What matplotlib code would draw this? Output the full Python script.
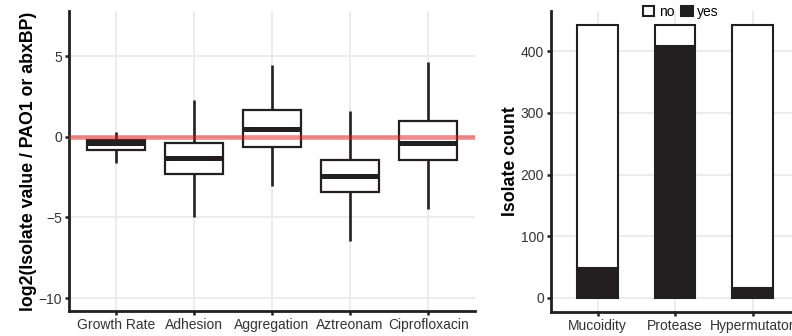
import matplotlib
matplotlib.use("Agg")
import matplotlib.pyplot as plt
from matplotlib.patches import Patch

plt.rcParams['font.family'] = ['Liberation Sans', 'DejaVu Sans']

# ---- data: left panel (box stats) ----
traits = ["Growth Rate", "Adhesion", "Aggregation", "Aztreonam", "Ciprofloxacin"]
whisk_low = [-1.6, -4.95, -3.02, -6.44, -4.47]
q1 = [-0.82, -2.32, -0.62, -3.42, -1.41]
median = [-0.36, -1.33, 0.48, -2.44, -0.39]
q3 = [-0.2, -0.37, 1.64, -1.41, 1.01]
whisk_high = [0.29, 2.3, 4.47, 1.61, 4.62]
left_yticks = [5, 0, -5, -10]
left_yticklabels = ["5", "0", "\u22125", "\u221210"]

# ---- data: right panel ----
phenotypes = ["Mucoidity", "Protease", "Hypermutator"]
yes_counts = [49, 408, 16]
no_counts = [394, 35, 427]
right_yticks = [0, 100, 200, 300, 400]

dark = "#231F20"
grid_c = "#EBEBEB"
tick_c = "#333333"

fig = plt.figure(figsize=(7.92, 3.36), dpi=100)

# ---------------- left panel ----------------
ax1 = fig.add_axes([69/792, 25/336, 406/792, 300/336])
stats = []
for i in range(len(traits)):
    stats.append(dict(whislo=whisk_low[i], q1=q1[i], med=median[i],
                      q3=q3[i], whishi=whisk_high[i], fliers=[], label=traits[i]))
pos = list(range(1, len(traits) + 1))
ax1.bxp(stats, positions=pos, widths=0.75, showfliers=False, showcaps=False,
        patch_artist=True,
        boxprops=dict(facecolor="white", edgecolor=dark, linewidth=1.6),
        medianprops=dict(color=dark, linewidth=3.6, solid_capstyle="butt"),
        whiskerprops=dict(color=dark, linewidth=1.9, solid_capstyle="butt"),
        zorder=3)
ax1.axhline(0, color="#E31A1C", alpha=0.5, linewidth=3.4, zorder=4)
ax1.set_xlim(0.4, 5.6)
ax1.set_ylim(-10.8, 7.8)
ax1.set_yticks(left_yticks)
ax1.set_yticklabels(left_yticklabels)
ax1.set_xticks(pos)
ax1.set_xticklabels(traits)
ax1.set_ylabel("log2(Isolate value / PAO1 or abxBP)", fontsize=12.8,
               fontweight="bold", labelpad=1)

# ---------------- right panel ----------------
ax2 = fig.add_axes([551/792, 24.3/336, 248/792, 300.7/336])
xpos = list(range(1, len(phenotypes) + 1))
ax2.bar(xpos, yes_counts, width=0.52, color=dark, edgecolor=dark,
        linewidth=1.5, zorder=3)
ax2.bar(xpos, no_counts, bottom=yes_counts, width=0.52, color="white",
        edgecolor=dark, linewidth=1.5, zorder=3)
ax2.set_xlim(0.4, 3.6)
ax2.set_ylim(-22.2, 465)
ax2.set_yticks(right_yticks)
ax2.set_xticks(xpos)
ax2.set_xticklabels(phenotypes)
ax2.set_ylabel("Isolate count", fontsize=12.8, fontweight="bold", labelpad=1)

handles = [Patch(facecolor="white", edgecolor=dark, linewidth=1.5, label="no"),
           Patch(facecolor=dark, edgecolor=dark, linewidth=1.5, label="yes")]
fig.legend(handles=handles, loc="center", bbox_to_anchor=(681/792, 1 - 12/336),
           ncol=2, frameon=False, fontsize=10, handlelength=0.8,
           handleheight=0.8, handletextpad=0.35, columnspacing=0.5,
           borderpad=0)

for ax in (ax1, ax2):
    ax.set_axisbelow(True)
    ax.grid(True, color=grid_c, linewidth=1.3, zorder=0)
    for s in ("top", "right"):
        ax.spines[s].set_visible(False)
    for s in ("left", "bottom"):
        ax.spines[s].set_linewidth(2.0)
        ax.spines[s].set_color(dark)
    ax.tick_params(axis="both", which="major", length=3, width=1.8,
                   color=dark, labelsize=10, labelcolor=tick_c, pad=2)

fig.savefig("out.png", dpi=100)
